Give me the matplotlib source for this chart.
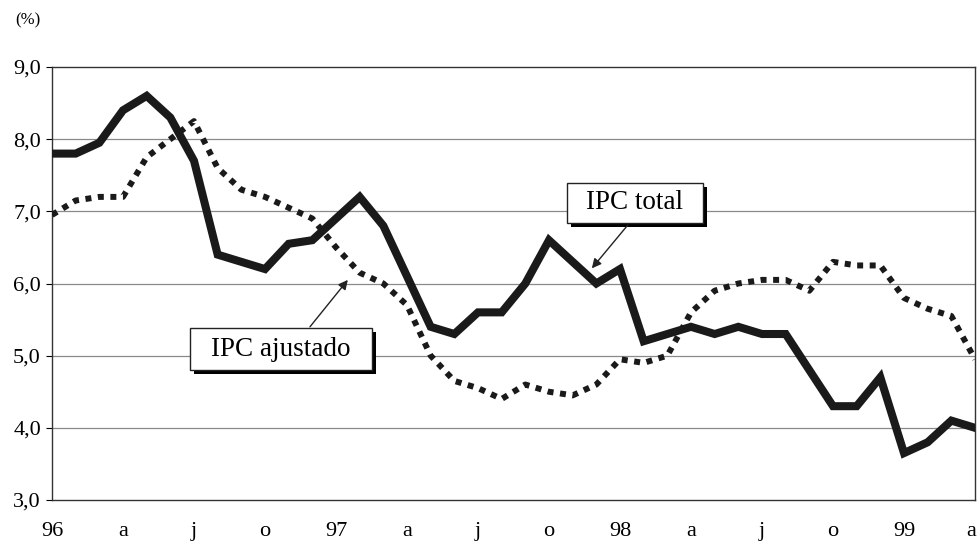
import matplotlib
matplotlib.use("Agg")
import matplotlib.pyplot as plt
import matplotlib.patheffects as pe
import matplotlib.transforms as mtrans
from matplotlib.patches import Rectangle
import numpy as np

plt.rcParams['font.family'] = ['Liberation Serif', 'DejaVu Serif']

# monthly data, Jan 1996 .. Apr 1999
ipc_total = [7.8, 7.8, 7.95, 8.4, 8.6, 8.3, 7.7, 6.4, 6.3, 6.2,
             6.55, 6.6, 6.9, 7.2, 6.8, 6.1, 5.4, 5.3, 5.6, 5.6,
             6.0, 6.6, 6.3, 6.0, 6.2, 5.2, 5.3, 5.4, 5.3, 5.4,
             5.3, 5.3, 4.8, 4.3, 4.3, 4.7, 3.65, 3.8, 4.1, 4.0]
ipc_ajustado = [6.95, 7.15, 7.2, 7.2, 7.75, 8.0, 8.25, 7.6, 7.3, 7.2,
                7.05, 6.9, 6.5, 6.15, 6.0, 5.7, 5.0, 4.65, 4.55, 4.4,
                4.6, 4.5, 4.45, 4.6, 4.95, 4.9, 5.0, 5.6, 5.9, 6.0,
                6.05, 6.05, 5.9, 6.3, 6.25, 6.25, 5.8, 5.65, 5.55, 4.95]
tick_labels = ['96', 'a', 'j', 'o', '97', 'a', 'j', 'o', '98', 'a', 'j', 'o', '99', 'a']
y_ticks = [3, 4, 5, 6, 7, 8, 9]

months = np.arange(len(ipc_total))

fig = plt.figure(figsize=(9.79, 5.45), dpi=100)
ax = fig.add_axes([52/979, 45/545, 923/979, 433/545])

for y in y_ticks[1:-1]:
    ax.axhline(y, color='#8a8a8a', lw=0.9, zorder=1)

ax.plot(months, ipc_ajustado, color='#1a1a1a', lw=4.3,
        linestyle=(0, (1, 1.1)), dash_capstyle='butt', zorder=3)
ax.plot(months, ipc_total, color='#1a1a1a', lw=5.8,
        solid_joinstyle='miter', zorder=4)

ax.set_xlim(0, 39)
ax.set_ylim(3, 9)
ax.set_xticks(np.arange(0, 40, 3))
ax.set_xticklabels(tick_labels, fontsize=16)
ax.set_yticks(y_ticks)
ax.set_yticklabels([f"{v:.1f}".replace('.', ',') for v in y_ticks], fontsize=16)
ax.tick_params(axis='x', length=0, pad=16)
ax.tick_params(axis='y', length=4, direction='out', pad=4)
# last label sits just inside the figure edge
last = ax.get_xticklabels()[-1]
last.set_transform(last.get_transform() + mtrans.ScaledTranslation(-4/100, 0, fig.dpi_scale_trans))
for s in ax.spines.values():
    s.set_color('#333333')
    s.set_linewidth(1.0)

fig.text(15/979, 1 - 20/545, '(%)', fontsize=12, va='center', ha='left')

shadow = [pe.withSimplePatchShadow(offset=(3, -3), shadow_rgbFace='black', alpha=1.0)]

# IPC total label box
r1 = Rectangle((21.76, 6.838), 27.50 - 21.76, 7.393 - 6.838, facecolor='white',
               edgecolor='#222222', lw=1.0, zorder=6)
r1.set_path_effects(shadow)
ax.add_patch(r1)
ax.text((21.76 + 27.50) / 2, (6.838 + 7.393) / 2, 'IPC total', fontsize=19.5,
        ha='center', va='center', zorder=7)
ax.annotate('', xy=(22.81, 6.21), xytext=(24.33, 6.81),
            arrowprops=dict(arrowstyle='-|>', color='#222222', lw=1.0,
                            mutation_scale=14, shrinkA=0, shrinkB=0), zorder=7)

# IPC ajustado label box
r2 = Rectangle((5.83, 4.80), 13.52 - 5.83, 5.384 - 4.80, facecolor='white',
               edgecolor='#222222', lw=1.0, zorder=6)
r2.set_path_effects(shadow)
ax.add_patch(r2)
ax.text((5.83 + 13.52) / 2, (4.80 + 5.384) / 2, 'IPC ajustado', fontsize=19.5,
        ha='center', va='center', zorder=7)
ax.annotate('', xy=(12.5, 6.05), xytext=(10.9, 5.40),
            arrowprops=dict(arrowstyle='-|>', color='#222222', lw=1.0,
                            mutation_scale=14, shrinkA=0, shrinkB=0), zorder=7)

fig.savefig('out.png', dpi=100)
